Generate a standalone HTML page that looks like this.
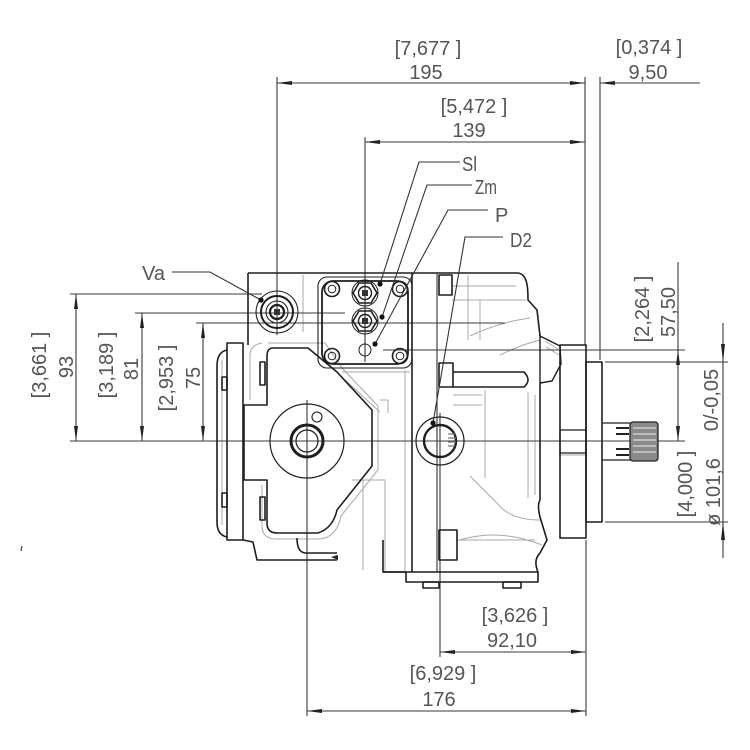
<!DOCTYPE html>
<html><head><meta charset="utf-8"><style>
html,body{margin:0;padding:0;background:#fff}
svg{display:block}
.t{font-family:"Liberation Sans",sans-serif;font-size:20px;fill:#555}
</style></head><body>
<svg width="750" height="750" viewBox="0 0 750 750" xmlns="http://www.w3.org/2000/svg">
<rect width="750" height="750" fill="#fff"/>

<!-- gray interior detail lines -->
<g fill="none" stroke="#a8a8a8" stroke-width="1">
<path d="M262 343 Q250 345 250 355 V400"/>
<path d="M303 275 V332"/>
<path d="M268 343 H325 L342 368 L378 406 V470 L341 516 Q337 537 320 539 H275 Q262 538 262 526 V485"/>
<path d="M222 360 V525"/>
<path d="M452 286 H516"/>
<path d="M452 300 H526"/>
<path d="M468 275 V340"/>
<path d="M470 336 Q500 322 530 318"/>
<path d="M480 300 V340"/>
<path d="M485 390 V478"/>
<path d="M535 395 V495 M528 392 V498"/>
<path d="M470 476 L497 503 Q510 520 540 520"/>
<path d="M460 540 Q500 528 542 545"/>
<path d="M405 370 V572"/>
<path d="M352 480 H385 V572"/>
<path d="M363 480 V570"/>
<path d="M342 372 H410"/>
<path d="M345 380 L380 412 M380 400 H388 V413"/>
<path d="M560 455 H586"/>
<path d="M453 395 H482 M453 405 H482"/>
<path d="M500 355 Q520 345 540 340"/>
<path d="M456 540 H535"/>
<path d="M545 341 L558 349 M546 347 L559 355"/>
</g>

<!-- centre / extension / dimension lines -->
<g fill="none" stroke="#3a3a3a" stroke-width="1.1">
<path d="M277 77 V335"/>
<path d="M585 77 V345"/>
<path d="M600 77 V360"/>
<path d="M277 83 H585"/>
<path d="M600 83 H700"/>
<path d="M365 137 V362"/>
<path d="M365 142 H585"/>
<path d="M70 294 H262"/>
<path d="M135 313 H345"/>
<path d="M196 323 H505"/>
<path d="M70 441 H685"/>
<path d="M76 294 V441"/>
<path d="M142 313 V441"/>
<path d="M203 323 V441"/>
<path d="M678 262 V441"/>
<path d="M383 350 H685"/>
<path d="M605 362 H728"/>
<path d="M605 522 H728"/>
<path d="M723 323 V558"/>
<path d="M440 413 V657"/>
<path d="M440 652 H586"/>
<path d="M586 540 V716"/>
<path d="M307 400 V716"/>
<path d="M307 711 H586"/>
<path d="M22 546 L21 551"/>
</g>

<!-- arrowheads -->
<g fill="#222">
<polygon points="277,83 292,81 292,85"/>
<polygon points="585,83 570,81 570,85"/>
<polygon points="600,83 615,81 615,85"/>
<polygon points="365,142 380,140 380,144"/>
<polygon points="585,142 570,140 570,144"/>
<polygon points="440,652 455,650 455,654"/>
<polygon points="586,652 571,650 571,654"/>
<polygon points="307,711 322,709 322,713"/>
<polygon points="586,711 571,709 571,713"/>
<polygon points="76,294 74,309 78,309"/>
<polygon points="76,441 74,426 78,426"/>
<polygon points="142,313 140,328 144,328"/>
<polygon points="142,441 140,426 144,426"/>
<polygon points="203,323 201,338 205,338"/>
<polygon points="203,441 201,426 205,426"/>
<polygon points="678,350 676,365 680,365"/>
<polygon points="678,441 676,426 680,426"/>
<polygon points="723,362 721,344 725,344"/>
<polygon points="723,522 721,540 725,540"/>
</g>

<!-- main body outlines -->
<g fill="none" stroke="#1e1e1e" stroke-width="1.6" stroke-linejoin="round">
<!-- left cover -->
<path d="M227 343 H243 V540 H227 Z"/>
<path d="M227 350 Q217 352 217 366 V522 Q217 535 227 537"/>
<rect x="222" y="377" width="5" height="13"/>
<rect x="222" y="493" width="5" height="14"/>
<!-- Va block -->
<path d="M248 273 V345"/>
<!-- left housing -->
<path d="M273 348 H308 L337 372 L372 410 V466 L337 510 Q333 528 318 533 H277 Q267 533 267 523 V480 H244 V405 H267 V356 Q267 348 273 348"/>
<rect x="260" y="362" width="5" height="23"/>
<rect x="260" y="497" width="5" height="23"/>
<!-- lower -->
<path d="M243 540 L253 542 L257 560 H337"/>
<path d="M297 538 Q297 552 305 553 H337"/>
<path d="M383 540 V572 H406 V582 H538 V572 Q533 560 540 553 L547 540 L540 517 Q537 505 540 500 V383"/>
<path d="M383 572 H538"/>
<rect x="423" y="582" width="16" height="6"/>
<rect x="503" y="582" width="18" height="6"/>
<!-- top line + columns -->
<path d="M248 273 H518"/>
<path d="M412 273 V572"/>
<path d="M518 273 C528 274 528 290 528 300 L537 310 L540 336"/>
<path d="M540 336 L560 346 L561 364 L552 381 L540 383 Z" stroke-width="1.4"/>
<!-- flange and plate -->
<rect x="560" y="345" width="26" height="193"/>
<rect x="560" y="430" width="26" height="23" stroke-width="1.2"/>
<rect x="586" y="362" width="16" height="160"/>
<!-- tabs -->
<rect x="439" y="275" width="13" height="20"/>
<rect x="439" y="363" width="14" height="24"/>
<path d="M453 372 H524 Q532 380 524 387 H453"/>
<rect x="439" y="530" width="18" height="30"/>
</g>
<path d="M437 273 V572" stroke="#333" stroke-width="1.1" fill="none"/>
<path d="M331 557 L338 555 L338 560 Z" fill="#222"/>

<!-- shaft -->
<g stroke="#222" stroke-width="1.3" fill="none">
<path d="M602 423 H630 M602 460 H630"/>
<rect x="630" y="422" width="28" height="39" rx="3" fill="#8a8a8a"/>
</g>
<g stroke="#ddd" stroke-width="1.2">
<path d="M633 428 H656 M633 434 H656 M633 440 H656 M633 446 H656 M633 452 H656"/>
</g>
<g stroke="#222" stroke-width="2">
<path d="M616 428 H629 M616 434 H629 M616 449 H629 M616 455 H629"/>
</g>

<!-- control block -->
<g fill="none" stroke="#1e1e1e">
<rect x="318" y="277" width="94" height="91" rx="9" stroke-width="1.1"/>
<rect x="322" y="281" width="86" height="83" rx="11" stroke-width="1.8"/>
<circle cx="332" cy="289" r="7.5" stroke-width="1.6"/><circle cx="332" cy="289" r="3.8" stroke-width="1"/>
<circle cx="400" cy="289" r="7.5" stroke-width="1.6"/><circle cx="400" cy="289" r="3.8" stroke-width="1"/>
<circle cx="332" cy="356" r="7.5" stroke-width="1.6"/><circle cx="332" cy="356" r="3.8" stroke-width="1"/>
<circle cx="400" cy="356" r="7.5" stroke-width="1.6"/><circle cx="400" cy="356" r="3.8" stroke-width="1"/>
<circle cx="365" cy="293" r="13" stroke-width="1"/>
<polygon points="377,293 371,303 359,303 353,293 359,283 371,283" stroke-width="1.6"/>
<circle cx="365" cy="293" r="6.5" stroke-width="1.4"/>
<circle cx="365" cy="321" r="13" stroke-width="1"/>
<polygon points="377,321 371,331 359,331 353,321 359,311 371,311" stroke-width="1.6"/>
<circle cx="365" cy="321" r="6.5" stroke-width="1.4"/>
<circle cx="365" cy="350" r="6" stroke-width="1"/>
</g>
<rect x="362" y="290" width="6" height="6" fill="#333"/>
<rect x="362" y="318" width="6" height="6" fill="#333"/>

<!-- Va port -->
<g fill="none" stroke="#1e1e1e">
<circle cx="277" cy="312" r="21" stroke-width="1.1"/>
<circle cx="277" cy="312" r="16" stroke-width="2"/>
<circle cx="277" cy="312" r="11" stroke-width="1.1"/>
<circle cx="277" cy="312" r="7" stroke-width="2.2"/>
</g>
<rect x="274" y="309" width="6" height="6" fill="#333"/>

<!-- main port -->
<g fill="none" stroke="#1e1e1e">
<circle cx="307" cy="441" r="37" stroke-width="1.2"/>
<circle cx="307" cy="441" r="16" stroke-width="3"/>
<circle cx="307" cy="441" r="11" stroke-width="1.2"/>
<circle cx="317" cy="417" r="5" stroke-width="1.1"/>
</g>

<!-- D2 port -->
<g fill="none" stroke="#1e1e1e">
<circle cx="440" cy="441" r="24" stroke-width="1.2"/>
<circle cx="440" cy="441" r="16" stroke-width="2.4"/>
</g>
<g stroke="#777" stroke-width="1.2"><path d="M448 434 H455 M448 438 H456 M448 442 H456 M448 446 H455"/></g>

<!-- leaders -->
<g fill="none" stroke="#333" stroke-width="1.1">
<path d="M172 272 H210 L261 300"/>
<path d="M460 162 H419 L380 284"/>
<path d="M472 185 H427 L382 317"/>
<path d="M488 210 H448 L375 344"/>
<path d="M503 237 H465 L433 423"/>
</g>
<g fill="#111">
<circle cx="261" cy="300" r="2.6"/>
<circle cx="380" cy="284" r="2.6"/>
<circle cx="382" cy="317" r="2.6"/>
<circle cx="375" cy="344" r="2.6"/>
<circle cx="433" cy="423" r="2.6"/>
</g>

<!-- texts -->
<g class="t">
<text x="428" y="55" text-anchor="middle">[7,677 ]</text>
<text x="426" y="79" text-anchor="middle">195</text>
<text x="649" y="54" text-anchor="middle">[0,374 ]</text>
<text x="648" y="79" text-anchor="middle">9,50</text>
<text x="474" y="113" text-anchor="middle">[5,472 ]</text>
<text x="469" y="137" text-anchor="middle">139</text>
<text x="515" y="622" text-anchor="middle">[3,626 ]</text>
<text x="512" y="647" text-anchor="middle">92,10</text>
<text x="443" y="680" text-anchor="middle">[6,929 ]</text>
<text x="439" y="706" text-anchor="middle">176</text>
<text x="142" y="280">Va</text>
<text x="462" y="171" textLength="15" lengthAdjust="spacingAndGlyphs">Sl</text>
<text x="475" y="194" textLength="22" lengthAdjust="spacingAndGlyphs">Zm</text>
<text x="495" y="222">P</text>
<text x="510" y="247" textLength="22" lengthAdjust="spacingAndGlyphs">D2</text>
<text transform="translate(46,365) rotate(-90)" text-anchor="middle">[3,661 ]</text>
<text transform="translate(73,367) rotate(-90)" text-anchor="middle">93</text>
<text transform="translate(113,365) rotate(-90)" text-anchor="middle">[3,189 ]</text>
<text transform="translate(138,369) rotate(-90)" text-anchor="middle">81</text>
<text transform="translate(173,378) rotate(-90)" text-anchor="middle">[2,953 ]</text>
<text transform="translate(200,378) rotate(-90)" text-anchor="middle">75</text>
<text transform="translate(649,309) rotate(-90)" text-anchor="middle">[2,264 ]</text>
<text transform="translate(675,312) rotate(-90)" text-anchor="middle">57,50</text>
<text transform="translate(692,484) rotate(-90)" text-anchor="middle">[4,000 ]</text>
<text transform="translate(720,492) rotate(-90)" text-anchor="middle">ø 101,6</text>
<text transform="translate(718,400) rotate(-90)" text-anchor="middle">0/-0,05</text>
</g>
</svg>
</body></html>
